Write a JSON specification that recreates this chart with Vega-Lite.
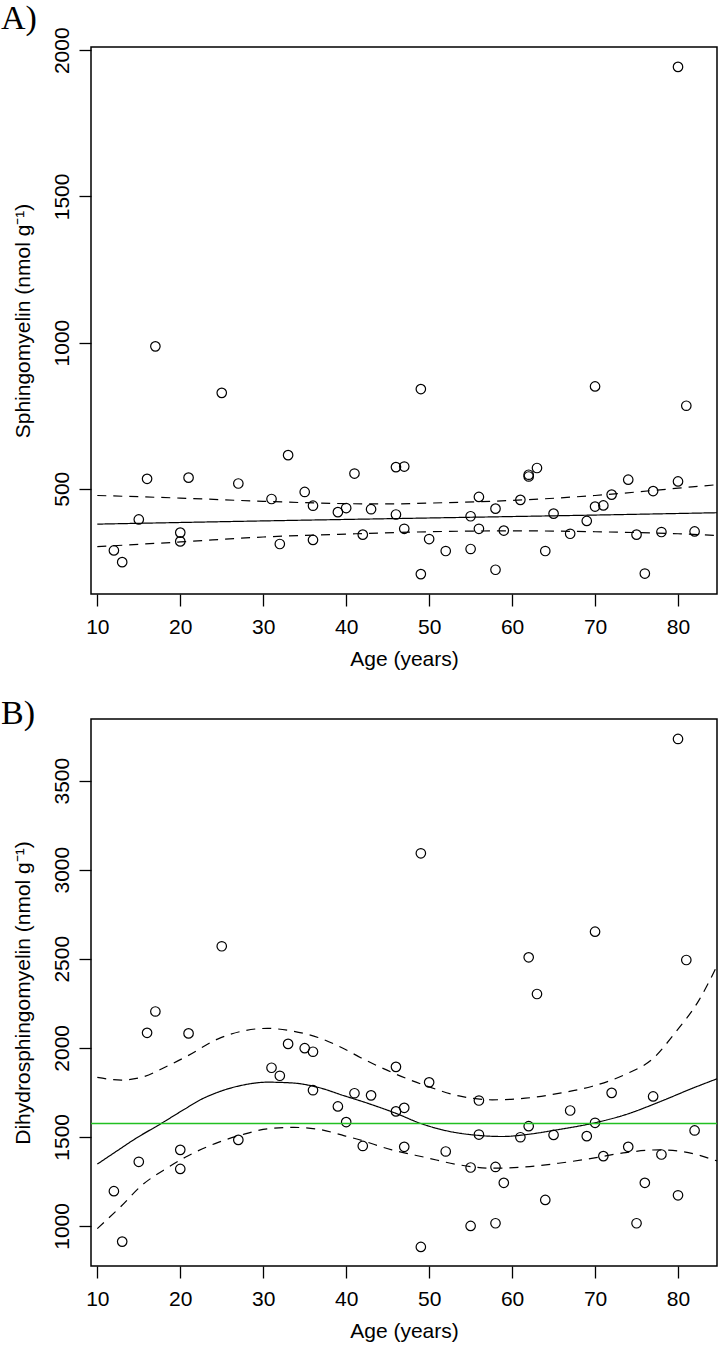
{
  "$schema": "https://vega.github.io/schema/vega-lite/v6.json",
  "background": "white",
  "padding": {"left": 0, "top": 1, "right": 2, "bottom": 0},
  "bounds": "flush",
  "spacing": 125,
  "config": {
    "view": {"stroke": "black", "strokeWidth": 1.5},
    "axis": {"domain": false, "grid": false, "tickColor": "black", "tickSize": 12, "tickWidth": 1.3, "labelFont": "Liberation Sans", "labelFontSize": 21, "labelColor": "black", "titleFont": "Liberation Sans", "titleFontSize": 21, "titleFontWeight": "normal", "titleColor": "black"},
    "axisX": {"labelPadding": 10, "titlePadding": 11, "labelFlush": false},
    "axisY": {"labelAngle": 270, "labelAlign": "center", "labelBaseline": "alphabetic", "labelPadding": 11, "titlePadding": 18, "labelFlush": false},
    "title": {"font": "Liberation Serif", "fontSize": 34, "fontWeight": "normal", "anchor": "start", "frame": "group", "color": "black", "baseline": "alphabetic", "dx": -90}
  },
  "datasets": {
    "a_pts": [
      {"age": 12, "v": 289}, {"age": 13, "v": 249}, {"age": 15, "v": 395}, {"age": 16, "v": 534}, {"age": 17, "v": 987},
      {"age": 20, "v": 350}, {"age": 20, "v": 320}, {"age": 21, "v": 538}, {"age": 25, "v": 828}, {"age": 27, "v": 518},
      {"age": 31, "v": 465}, {"age": 32, "v": 311}, {"age": 33, "v": 615}, {"age": 35, "v": 489}, {"age": 36, "v": 442},
      {"age": 36, "v": 325}, {"age": 39, "v": 420}, {"age": 40, "v": 434}, {"age": 41, "v": 552}, {"age": 42, "v": 343},
      {"age": 43, "v": 430}, {"age": 46, "v": 574}, {"age": 46, "v": 412}, {"age": 47, "v": 576}, {"age": 47, "v": 363},
      {"age": 49, "v": 841}, {"age": 49, "v": 208}, {"age": 50, "v": 328}, {"age": 52, "v": 287}, {"age": 55, "v": 406},
      {"age": 55, "v": 294}, {"age": 56, "v": 472}, {"age": 56, "v": 363}, {"age": 58, "v": 432}, {"age": 58, "v": 223},
      {"age": 59, "v": 357}, {"age": 61, "v": 462}, {"age": 62, "v": 548}, {"age": 62, "v": 542}, {"age": 63, "v": 571},
      {"age": 64, "v": 287}, {"age": 65, "v": 415}, {"age": 67, "v": 346}, {"age": 69, "v": 390}, {"age": 70, "v": 850},
      {"age": 70, "v": 439}, {"age": 71, "v": 443}, {"age": 72, "v": 480}, {"age": 74, "v": 531}, {"age": 75, "v": 343},
      {"age": 76, "v": 210}, {"age": 77, "v": 492}, {"age": 78, "v": 352}, {"age": 80, "v": 1943}, {"age": 80, "v": 525},
      {"age": 81, "v": 784}, {"age": 82, "v": 354}
    ],
    "b_pts": [
      {"age": 12, "v": 1195}, {"age": 13, "v": 912}, {"age": 15, "v": 1360}, {"age": 16, "v": 2084}, {"age": 17, "v": 2204},
      {"age": 20, "v": 1427}, {"age": 20, "v": 1320}, {"age": 21, "v": 2081}, {"age": 25, "v": 2570}, {"age": 27, "v": 1483},
      {"age": 31, "v": 1888}, {"age": 32, "v": 1843}, {"age": 33, "v": 2022}, {"age": 35, "v": 1998}, {"age": 36, "v": 1978},
      {"age": 36, "v": 1762}, {"age": 39, "v": 1671}, {"age": 40, "v": 1583}, {"age": 41, "v": 1745}, {"age": 42, "v": 1449},
      {"age": 43, "v": 1733}, {"age": 46, "v": 1893}, {"age": 46, "v": 1643}, {"age": 47, "v": 1663}, {"age": 47, "v": 1444},
      {"age": 49, "v": 3092}, {"age": 49, "v": 882}, {"age": 50, "v": 1806}, {"age": 52, "v": 1418}, {"age": 55, "v": 1328},
      {"age": 55, "v": 1000}, {"age": 56, "v": 1704}, {"age": 56, "v": 1513}, {"age": 58, "v": 1331}, {"age": 58, "v": 1015},
      {"age": 59, "v": 1242}, {"age": 61, "v": 1498}, {"age": 62, "v": 2508}, {"age": 62, "v": 1560}, {"age": 63, "v": 2302},
      {"age": 64, "v": 1146}, {"age": 65, "v": 1511}, {"age": 67, "v": 1648}, {"age": 69, "v": 1504}, {"age": 70, "v": 2652},
      {"age": 70, "v": 1579}, {"age": 71, "v": 1392}, {"age": 72, "v": 1747}, {"age": 74, "v": 1444}, {"age": 75, "v": 1015},
      {"age": 76, "v": 1242}, {"age": 77, "v": 1727}, {"age": 78, "v": 1401}, {"age": 80, "v": 3734}, {"age": 80, "v": 1172},
      {"age": 81, "v": 2493}, {"age": 82, "v": 1536}
    ],
    "a_fit": [
      {"age": 10, "v": 379, "band": "fit"}, {"age": 30, "v": 390, "band": "fit"}, {"age": 50, "v": 400, "band": "fit"}, {"age": 70, "v": 410, "band": "fit"}, {"age": 84.7, "v": 418, "band": "fit"},
      {"age": 10, "v": 477, "band": "upper"}, {"age": 20, "v": 468, "band": "upper"}, {"age": 30, "v": 457, "band": "upper"}, {"age": 40, "v": 449, "band": "upper"}, {"age": 45, "v": 448, "band": "upper"}, {"age": 50, "v": 451, "band": "upper"}, {"age": 60, "v": 460, "band": "upper"}, {"age": 70, "v": 477, "band": "upper"}, {"age": 80, "v": 502, "band": "upper"}, {"age": 84.7, "v": 514, "band": "upper"},
      {"age": 10, "v": 302, "band": "lower"}, {"age": 20, "v": 318, "band": "lower"}, {"age": 30, "v": 335, "band": "lower"}, {"age": 40, "v": 345, "band": "lower"}, {"age": 50, "v": 353, "band": "lower"}, {"age": 60, "v": 356, "band": "lower"}, {"age": 70, "v": 353, "band": "lower"}, {"age": 80, "v": 346, "band": "lower"}, {"age": 84.7, "v": 340, "band": "lower"}
    ],
    "b_fit": [
      {"age": 10, "v": 1347, "band": "fit"}, {"age": 12.5, "v": 1425, "band": "fit"}, {"age": 14.5, "v": 1487, "band": "fit"}, {"age": 17.7, "v": 1575, "band": "fit"}, {"age": 20.5, "v": 1655, "band": "fit"}, {"age": 22.5, "v": 1710, "band": "fit"}, {"age": 24.5, "v": 1750, "band": "fit"}, {"age": 27.7, "v": 1792, "band": "fit"}, {"age": 30.5, "v": 1807, "band": "fit"}, {"age": 33.7, "v": 1802, "band": "fit"}, {"age": 36.6, "v": 1778, "band": "fit"}, {"age": 39.8, "v": 1730, "band": "fit"}, {"age": 42.5, "v": 1690, "band": "fit"}, {"age": 46, "v": 1632, "band": "fit"}, {"age": 49, "v": 1575, "band": "fit"}, {"age": 52, "v": 1535, "band": "fit"}, {"age": 56, "v": 1508, "band": "fit"}, {"age": 58.8, "v": 1502, "band": "fit"}, {"age": 62.4, "v": 1517, "band": "fit"}, {"age": 65.6, "v": 1541, "band": "fit"}, {"age": 69.6, "v": 1575, "band": "fit"}, {"age": 73.7, "v": 1625, "band": "fit"}, {"age": 77.7, "v": 1695, "band": "fit"}, {"age": 81.7, "v": 1772, "band": "fit"}, {"age": 84.7, "v": 1826, "band": "fit"},
      {"age": 10, "v": 1834, "band": "upper"}, {"age": 12.9, "v": 1819, "band": "upper"}, {"age": 15.3, "v": 1834, "band": "upper"}, {"age": 18.5, "v": 1899, "band": "upper"}, {"age": 20.9, "v": 1955, "band": "upper"}, {"age": 24.5, "v": 2049, "band": "upper"}, {"age": 27.7, "v": 2096, "band": "upper"}, {"age": 30.5, "v": 2109, "band": "upper"}, {"age": 33.3, "v": 2096, "band": "upper"}, {"age": 36.6, "v": 2058, "band": "upper"}, {"age": 39.8, "v": 1993, "band": "upper"}, {"age": 41.7, "v": 1946, "band": "upper"}, {"age": 45.5, "v": 1862, "band": "upper"}, {"age": 49.6, "v": 1787, "band": "upper"}, {"age": 53.6, "v": 1730, "band": "upper"}, {"age": 57.6, "v": 1708, "band": "upper"}, {"age": 61.6, "v": 1717, "band": "upper"}, {"age": 65.6, "v": 1744, "band": "upper"}, {"age": 69.6, "v": 1783, "band": "upper"}, {"age": 73.7, "v": 1852, "band": "upper"}, {"age": 76.9, "v": 1936, "band": "upper"}, {"age": 79.7, "v": 2087, "band": "upper"}, {"age": 82.5, "v": 2265, "band": "upper"}, {"age": 84.7, "v": 2460, "band": "upper"},
      {"age": 10, "v": 985, "band": "lower"}, {"age": 12.9, "v": 1112, "band": "lower"}, {"age": 15.3, "v": 1225, "band": "lower"}, {"age": 18.5, "v": 1328, "band": "lower"}, {"age": 20.9, "v": 1393, "band": "lower"}, {"age": 24.5, "v": 1468, "band": "lower"}, {"age": 27.7, "v": 1515, "band": "lower"}, {"age": 30.5, "v": 1545, "band": "lower"}, {"age": 33.7, "v": 1553, "band": "lower"}, {"age": 36.6, "v": 1543, "band": "lower"}, {"age": 39.8, "v": 1506, "band": "lower"}, {"age": 41.5, "v": 1485, "band": "lower"}, {"age": 45.5, "v": 1427, "band": "lower"}, {"age": 49.6, "v": 1384, "band": "lower"}, {"age": 53.6, "v": 1343, "band": "lower"}, {"age": 57.6, "v": 1324, "band": "lower"}, {"age": 61.6, "v": 1331, "band": "lower"}, {"age": 65.6, "v": 1352, "band": "lower"}, {"age": 69.6, "v": 1379, "band": "lower"}, {"age": 73.7, "v": 1412, "band": "lower"}, {"age": 77.7, "v": 1427, "band": "lower"}, {"age": 80.7, "v": 1416, "band": "lower"}, {"age": 84.7, "v": 1365, "band": "lower"}
    ]
  },
  "vconcat": [
    {
      "width": 626,
      "height": 547,
      "title": {"text": "A)", "offset": -9},
      "layer": [
        {
          "data": {"name": "a_fit"},
          "mark": {"type": "line", "color": "black", "strokeWidth": 1.2, "interpolate": "monotone"},
          "encoding": {
            "x": {"field": "age", "type": "quantitative", "scale": {"domain": [9.24, 84.7], "nice": false, "zero": false}, "axis": {"values": [10, 20, 30, 40, 50, 60, 70, 80], "title": "Age (years)"}},
            "y": {"field": "v", "type": "quantitative", "scale": {"domain": [140, 2011], "nice": false, "zero": false}, "axis": {"values": [500, 1000, 1500, 2000], "format": "d", "title": "Sphingomyelin (nmol g⁻¹)"}},
            "detail": {"field": "band"},
            "strokeDash": {"field": "band", "type": "nominal", "scale": {"domain": ["fit", "upper", "lower"], "range": [[1, 0], [9, 7], [9, 7]]}, "legend": null}
          }
        },
        {
          "data": {"name": "a_pts"},
          "mark": {"type": "point", "shape": "circle", "filled": false, "color": "black", "size": 90, "strokeWidth": 1.2, "opacity": 1},
          "encoding": {
            "x": {"field": "age", "type": "quantitative"},
            "y": {"field": "v", "type": "quantitative"}
          }
        }
      ]
    },
    {
      "width": 626,
      "height": 547,
      "title": {"text": "B)", "offset": -12},
      "layer": [
        {
          "data": {"name": "b_fit"},
          "mark": {"type": "line", "color": "black", "strokeWidth": 1.2, "interpolate": "monotone"},
          "encoding": {
            "x": {"field": "age", "type": "quantitative", "scale": {"domain": [9.24, 84.7], "nice": false, "zero": false}, "axis": {"values": [10, 20, 30, 40, 50, 60, 70, 80], "title": "Age (years)"}},
            "y": {"field": "v", "type": "quantitative", "scale": {"domain": [775, 3846], "nice": false, "zero": false}, "axis": {"values": [1000, 1500, 2000, 2500, 3000, 3500], "format": "d", "title": "Dihydrosphingomyelin (nmol g⁻¹)"}},
            "detail": {"field": "band"},
            "strokeDash": {"field": "band", "type": "nominal", "scale": {"domain": ["fit", "upper", "lower"], "range": [[1, 0], [9, 7], [9, 7]]}, "legend": null}
          }
        },
        {
          "data": {"name": "b_pts"},
          "mark": {"type": "point", "shape": "circle", "filled": false, "color": "black", "size": 90, "strokeWidth": 1.2, "opacity": 1},
          "encoding": {
            "x": {"field": "age", "type": "quantitative"},
            "y": {"field": "v", "type": "quantitative"}
          }
        },
        {
          "data": {"values": [{"level": 1575}]},
          "mark": {"type": "rule", "color": "#22c022", "strokeWidth": 1.5},
          "encoding": {
            "y": {"field": "level", "type": "quantitative"}
          }
        }
      ]
    }
  ]
}
